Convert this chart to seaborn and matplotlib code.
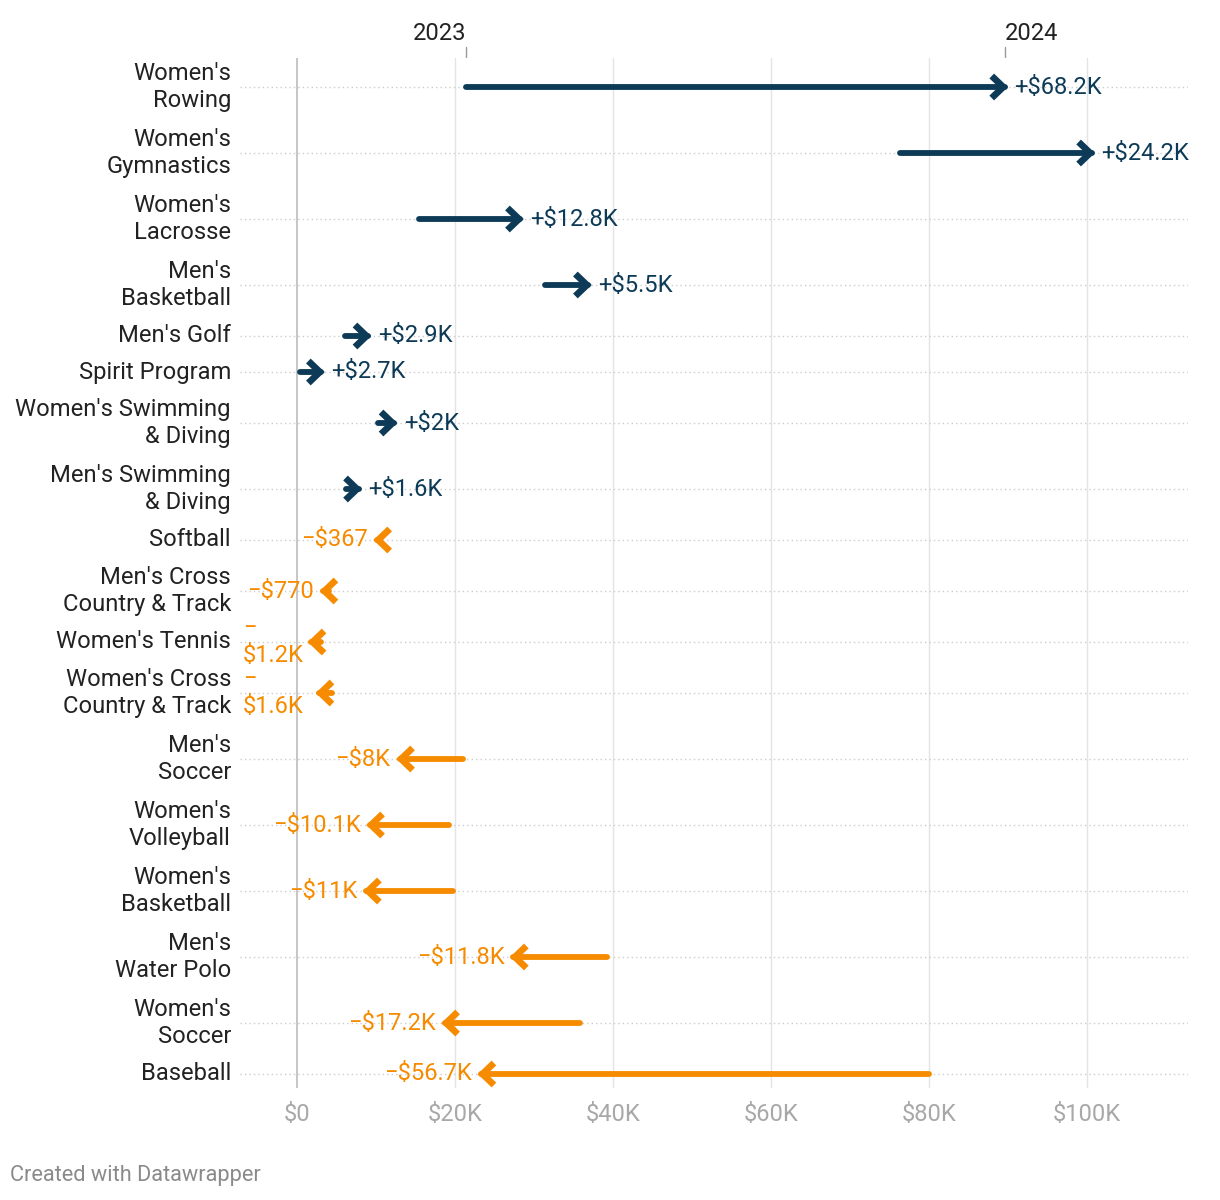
import numpy as np
import pandas as pd
import matplotlib
matplotlib.use("Agg")
import matplotlib.pyplot as plt
import seaborn as sns

# ---------------- data ----------------
categories = [
    "Women's\nRowing", "Women's\nGymnastics", "Women's\nLacrosse", "Men's\nBasketball",
    "Men's Golf", "Spirit Program", "Women's Swimming\n& Diving", "Men's Swimming\n& Diving",
    "Softball", "Men's Cross\nCountry & Track", "Women's Tennis", "Women's Cross\nCountry & Track",
    "Men's\nSoccer", "Women's\nVolleyball", "Women's\nBasketball", "Men's\nWater Polo",
    "Women's\nSoccer", "Baseball",
]
values_2023 = [21.4, 76.4, 15.5, 31.4, 6.1, 0.4, 10.3, 6.2, 10.5, 4.1, 3.0, 4.4,
               21.0, 19.3, 19.8, 39.2, 35.9, 80.0]   # $K
values_2024 = [89.6, 100.6, 28.3, 36.9, 9.0, 3.1, 12.3, 7.8, 10.1, 3.3, 1.8, 2.8,
               13.0, 9.2, 8.8, 27.4, 18.7, 23.3]     # $K
change_labels = ["+$68.2K", "+$24.2K", "+$12.8K", "+$5.5K", "+$2.9K", "+$2.7K", "+$2K", "+$1.6K",
                 "\u2212$367", "\u2212$770", "\u2212\n$1.2K", "\u2212\n$1.6K", "\u2212$8K",
                 "\u2212$10.1K", "\u2212$11K", "\u2212$11.8K", "\u2212$17.2K", "\u2212$56.7K"]
year_labels = ["2023", "2024"]
x_ticks = [0, 20, 40, 60, 80, 100]
x_tick_labels = ["$0", "$20K", "$40K", "$60K", "$80K", "$100K"]

# ---------------- style ----------------
sns.set_theme(style="white")
plt.rcParams["font.family"] = ["Roboto", "DejaVu Sans"]

NAVY = "#0d3a56"
ORANGE = "#f68b00"
FS = 17.1
LS = 1.22

W, H = 1220, 1200
fig = plt.figure(figsize=(W / 100, H / 100), dpi=100)
ax_left, ax_right, ax_top, ax_bot = 240, 1188, 58, 1088
ax = fig.add_axes([ax_left / W, 1 - ax_bot / H, (ax_right - ax_left) / W, (ax_bot - ax_top) / H])

# row layout (pixel-like units): two-line rows taller than one-line rows
n_lines = [c.count("\n") + 1 for c in categories]
heights = [66 if n > 1 else 36 for n in n_lines]
ypos = []
cur = 29
for i, h in enumerate(heights):
    if i > 0:
        cur += (heights[i - 1] + h) / 2
    ypos.append(cur)
ypos = np.array(ypos)

xmin, xmax = -7.2, 112.8
ax.set_xlim(xmin, xmax)
ax.set_ylim(ax_bot - ax_top, 0)
px_x = (xmax - xmin) / (ax_right - ax_left)   # $K per pixel

# grid
for xt in x_ticks:
    ax.axvline(xt, color="#c6c6c6" if xt == 0 else "#e4e4e4", lw=1.4 if xt == 0 else 1.0, zorder=0)
for y in ypos:
    ax.axhline(y, color="#cdcdcd", lw=1.0, ls=(0, (1, 2.2)), zorder=0)

# shafts via seaborn
rows = []
for c, y, a, b in zip(categories, ypos, values_2023, values_2024):
    d = "up" if b >= a else "down"
    rows.append(dict(cat=c, y=y, value=a, dir=d))
    rows.append(dict(cat=c, y=y, value=b, dir=d))
df = pd.DataFrame(rows)
sns.lineplot(data=df, x="value", y="y", units="cat", estimator=None, hue="dir",
             palette={"up": NAVY, "down": ORANGE}, lw=4.2, legend=False, ax=ax,
             solid_capstyle="round", sort=False, zorder=3)

# chevron heads
ah_x, ah_y = 11.5 * px_x, 11.0
for y, a, b in zip(ypos, values_2023, values_2024):
    s = 1 if b >= a else -1
    col = NAVY if s > 0 else ORANGE
    tip = b - s * 1.5 * px_x
    ax.plot([tip - s * ah_x, tip, tip - s * ah_x], [y - ah_y, y, y + ah_y], color=col,
            lw=4.8, solid_joinstyle="miter", solid_capstyle="butt", zorder=4)

# value labels
for y, a, b, lab in zip(ypos, values_2023, values_2024, change_labels):
    if b >= a:
        ax.annotate(lab, (b, y), xytext=(7, 0), textcoords="offset points", ha="left",
                    va="center", color=NAVY, fontsize=FS)
    elif "\n" in lab:
        ax.text(xmin + 3 * px_x, y, lab, ha="left", va="center", color=ORANGE,
                fontsize=FS, linespacing=LS)
    else:
        ax.annotate(lab, (b, y), xytext=(-6.5, 0), textcoords="offset points", ha="right",
                    va="center", color=ORANGE, fontsize=FS)

# axes ticks
ax.set_xticks(x_ticks, labels=x_tick_labels)
ax.set_yticks(ypos, labels=categories)
ax.tick_params(axis="x", length=0, pad=11, labelsize=FS, labelcolor="#a8a8a8")
ax.tick_params(axis="y", length=0, pad=6.5, labelsize=FS, labelcolor="#222222")
for t in ax.get_yticklabels():
    t.set_linespacing(LS)
    t.set_verticalalignment("center")
for sp in ax.spines.values():
    sp.set_visible(False)
ax.set_xlabel("")
ax.set_ylabel("")

# top year markers at first row's endpoints
tr = ax.get_xaxis_transform()
hpx = 1 / (ax_bot - ax_top)
for xv, lab, ha in zip([values_2023[0], values_2024[0]], year_labels, ["right", "left"]):
    ax.plot([xv, xv], [1 + 1 * hpx, 1 + 11 * hpx], transform=tr, color="#999999", lw=1,
            clip_on=False)
    ax.text(xv, 1 + 24 * hpx, lab, transform=tr, ha=ha, va="center", color="#222222",
            fontsize=FS)

fig.text(10 / W, 1 - 1175 / H, "Created with Datawrapper", ha="left", va="center",
         color="#8a8a8a", fontsize=15.7)

fig.savefig("out.png", dpi=100, facecolor="white")
